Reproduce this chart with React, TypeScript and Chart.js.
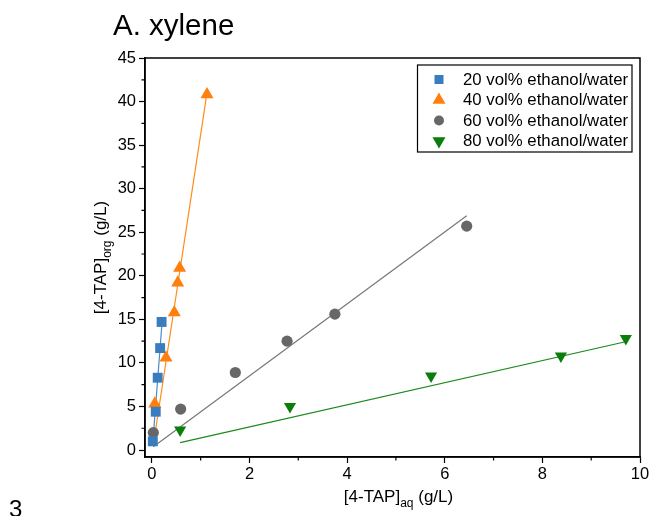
import React, { useEffect, useRef } from 'react';
import { Chart, registerables } from 'chart.js';

Chart.register(...registerables);

const FONT = '"Liberation Sans", Arial, sans-serif';

const seriesNames = [
  '20 vol% ethanol/water',
  '40 vol% ethanol/water',
  '60 vol% ethanol/water',
  '80 vol% ethanol/water',
];
const markerColors = ['#3a7dbf', '#ff7f0e', '#676767', '#0a7d0a'];
const lineColors = ['#4a8ccc', '#ff8c1a', '#777777', '#1a8a1a'];

// 20 vol%
const x20 = [0.02, 0.08, 0.12, 0.17, 0.2];
const y20 = [1.0, 4.4, 8.3, 11.7, 14.7];
// 40 vol%
const x40 = [0.06, 0.29, 0.46, 0.53, 0.57, 1.13];
const y40 = [5.3, 10.6, 15.8, 19.2, 20.9, 40.8];
// 60 vol%
const x60 = [0.03, 0.59, 1.71, 2.77, 3.75, 6.45];
const y60 = [2.0, 4.7, 8.9, 12.5, 15.6, 25.7];
// 80 vol%
const x80 = [0.58, 2.83, 5.72, 8.38, 9.71];
const y80 = [2.3, 5.0, 8.5, 10.8, 12.8];

// fitted lines (end points)
const fit20X = [0.02, 0.21];
const fit20Y = [0.9, 14.7];
const fit40X = [0.06, 1.13];
const fit40Y = [1.7, 41.0];
const fit60X = [0.03, 6.45];
const fit60Y = [0.38, 26.9];
const fit80X = [0.58, 9.68];
const fit80Y = [0.85, 12.4];

const xTicks = [0, 2, 4, 6, 8, 10];
const xMinor = [1, 3, 5, 7, 9];
const yTicks = [0, 5, 10, 15, 20, 25, 30, 35, 40, 45];
const yMinor = [2.5, 7.5, 12.5, 17.5, 22.5, 27.5, 32.5, 37.5, 42.5];

const titleText = 'A. xylene';
const xTitle = ['[4-TAP]', 'aq', ' (g/L)'];
const yTitle = ['[4-TAP]', 'org', ' (g/L)'];
const strayText = '3';

const pts = (xs: number[], ys: number[]) => xs.map((x, i) => ({ x, y: ys[i] }));

function drawMarker(ctx: CanvasRenderingContext2D, kind: number, cx: number, cy: number, color: string) {
  ctx.fillStyle = color;
  ctx.beginPath();
  if (kind === 0) {
    ctx.rect(cx - 4.5, cy - 4.5, 9, 9);
  } else if (kind === 1) {
    const r = 7.5;
    ctx.moveTo(cx, cy - r);
    ctx.lineTo(cx + r * 0.866, cy + r / 2);
    ctx.lineTo(cx - r * 0.866, cy + r / 2);
    ctx.closePath();
  } else if (kind === 2) {
    ctx.arc(cx, cy, 5, 0, Math.PI * 2);
  } else {
    const r = 7.5;
    ctx.moveTo(cx, cy + r);
    ctx.lineTo(cx + r * 0.866, cy - r / 2);
    ctx.lineTo(cx - r * 0.866, cy - r / 2);
    ctx.closePath();
  }
  ctx.fill();
}

function drawSubText(ctx: CanvasRenderingContext2D, parts: string[], size: number) {
  const main = `${size}px ${FONT}`;
  const sub = `${Math.round(size * 0.68)}px ${FONT}`;
  ctx.font = main;
  const w0 = ctx.measureText(parts[0]).width;
  const w2 = ctx.measureText(parts[2]).width;
  ctx.font = sub;
  const w1 = ctx.measureText(parts[1]).width;
  const total = w0 + w1 + w2;
  let x = -total / 2;
  ctx.textAlign = 'left';
  ctx.textBaseline = 'alphabetic';
  ctx.font = main;
  ctx.fillText(parts[0], x, 0);
  x += w0;
  ctx.font = sub;
  ctx.fillText(parts[1], x, size * 0.28);
  x += w1;
  ctx.font = main;
  ctx.fillText(parts[2], x, 0);
}

const decor = {
  id: 'decor',
  afterDraw(chart: any) {
    const { ctx, chartArea: ca, scales } = chart;
    const xs = scales.x;
    const ys = scales.y;
    ctx.save();
    ctx.strokeStyle = '#000';
    ctx.lineWidth = 1.5;
    ctx.strokeRect(ca.left, ca.top, ca.right - ca.left, ca.bottom - ca.top);
    ctx.lineWidth = 1.2;
    ctx.beginPath();
    xMinor.forEach((v) => {
      const px = xs.getPixelForValue(v);
      ctx.moveTo(px, ca.bottom);
      ctx.lineTo(px, ca.bottom + 3.5);
    });
    yMinor.forEach((v) => {
      const py = ys.getPixelForValue(v);
      ctx.moveTo(ca.left, py);
      ctx.lineTo(ca.left - 3.5, py);
    });
    ctx.stroke();

    ctx.fillStyle = '#000';
    ctx.font = `29.5px ${FONT}`;
    ctx.textAlign = 'left';
    ctx.textBaseline = 'alphabetic';
    ctx.fillText(titleText, 113, 35);

    ctx.save();
    ctx.translate((ca.left + ca.right) / 2 + 6, 502);
    drawSubText(ctx, xTitle, 17);
    ctx.restore();

    ctx.save();
    ctx.translate(106, (ca.top + ca.bottom) / 2);
    ctx.rotate(-Math.PI / 2);
    drawSubText(ctx, yTitle, 17);
    ctx.restore();

    const lx = 417.5, ly = 65, lw = 214.5, lh = 87;
    ctx.fillStyle = '#fff';
    ctx.fillRect(lx, ly, lw, lh);
    ctx.strokeStyle = '#000';
    ctx.lineWidth = 1.2;
    ctx.strokeRect(lx, ly, lw, lh);
    const rows = [79.5, 100, 120.5, 141];
    seriesNames.forEach((name, i) => {
      drawMarker(ctx, i, 439, rows[i], markerColors[i]);
      ctx.fillStyle = '#000';
      ctx.font = `16.8px ${FONT}`;
      ctx.textAlign = 'left';
      ctx.textBaseline = 'middle';
      ctx.fillText(name, 463, rows[i] + 0.5);
    });

    ctx.fillStyle = '#000';
    ctx.font = `24px ${FONT}`;
    ctx.textAlign = 'left';
    ctx.textBaseline = 'alphabetic';
    ctx.fillText(strayText, 9, 517);
    ctx.restore();
  },
};

export default function App() {
  const ref = useRef<HTMLCanvasElement | null>(null);
  useEffect(() => {
    if (!ref.current) return;
    const tickFont = { family: FONT, size: 16.5 };
    const chart = new Chart(ref.current, {
      type: 'scatter',
      data: {
        datasets: [
          {
            label: seriesNames[0], data: pts(x20, y20), pointStyle: 'rect', pointRadius: 7,
            backgroundColor: markerColors[0], borderColor: markerColors[0], pointBorderWidth: 0, showLine: false,
          },
          {
            label: seriesNames[1], data: pts(x40, y40), pointStyle: 'triangle', pointRadius: 7.5,
            backgroundColor: markerColors[1], borderColor: markerColors[1], pointBorderWidth: 0, showLine: false,
          },
          {
            label: seriesNames[2], data: pts(x60, y60), pointStyle: 'circle', pointRadius: 5.6,
            backgroundColor: markerColors[2], borderColor: markerColors[2], pointBorderWidth: 0, showLine: false,
          },
          {
            label: seriesNames[3], data: pts(x80, y80), pointStyle: 'triangle', rotation: 180, pointRadius: 7,
            backgroundColor: markerColors[3], borderColor: markerColors[3], pointBorderWidth: 0, showLine: false,
          } as any,
          { label: 'fit20', data: pts(fit20X, fit20Y), showLine: true, pointRadius: 0, borderColor: lineColors[0], borderWidth: 1.2 },
          { label: 'fit40', data: pts(fit40X, fit40Y), showLine: true, pointRadius: 0, borderColor: lineColors[1], borderWidth: 1.2 },
          { label: 'fit60', data: pts(fit60X, fit60Y), showLine: true, pointRadius: 0, borderColor: lineColors[2], borderWidth: 1.2 },
          { label: 'fit80', data: pts(fit80X, fit80Y), showLine: true, pointRadius: 0, borderColor: lineColors[3], borderWidth: 1.2 },
        ],
      },
      options: {
        responsive: false,
        animation: false,
        devicePixelRatio: 1,
        layout: { padding: { left: 0, top: 58, right: 12, bottom: 0 } },
        plugins: { legend: { display: false }, tooltip: { enabled: false }, title: { display: false } },
        scales: {
          x: {
            type: 'linear',
            min: -0.14,
            max: 10,
            afterBuildTicks: (s: any) => { s.ticks = xTicks.map((v) => ({ value: v })); },
            afterFit: (s: any) => { s.height = 59; s.paddingLeft = 0; s.paddingRight = 0; },
            grid: { drawOnChartArea: false, drawTicks: true, tickLength: 6, tickWidth: 1.2, tickColor: '#000' },
            border: { display: true, color: '#000', width: 1.5 },
            ticks: { font: tickFont, color: '#000', padding: 2, maxRotation: 0, autoSkip: false },
          },
          y: {
            type: 'linear',
            min: -0.8,
            max: 45,
            afterBuildTicks: (s: any) => { s.ticks = yTicks.map((v) => ({ value: v })); },
            afterFit: (s: any) => { s.width = 145; s.paddingTop = 0; s.paddingBottom = 0; },
            grid: { drawOnChartArea: false, drawTicks: true, tickLength: 6, tickWidth: 1.2, tickColor: '#000' },
            border: { display: true, color: '#000', width: 1.5 },
            ticks: { font: tickFont, color: '#000', padding: 3, autoSkip: false },
          },
        },
      } as any,
      plugins: [decor],
    });
    return () => chart.destroy();
  }, []);
  return (
    <div style={{ position: 'absolute', left: 0, top: 0, width: 652, height: 516, background: '#fff' }}>
      <canvas ref={ref} width={652} height={516} style={{ display: 'block' }} />
    </div>
  );
}
